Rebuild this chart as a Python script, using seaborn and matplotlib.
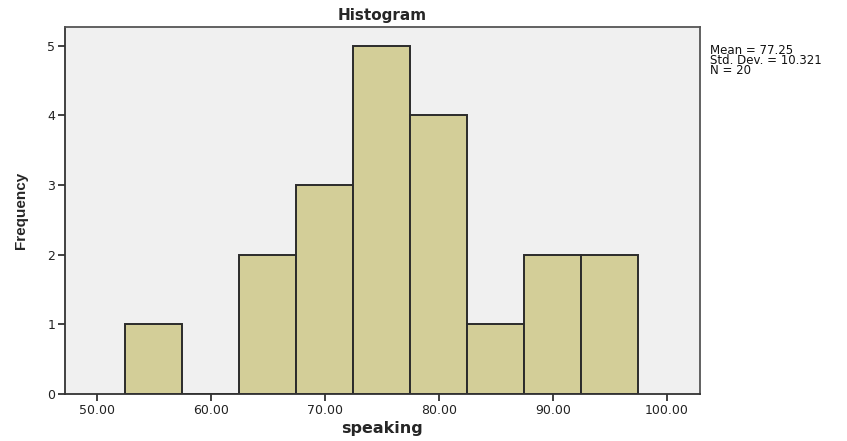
import numpy as np
import matplotlib
matplotlib.use("Agg")
import matplotlib.pyplot as plt
import seaborn as sns

# bin centres (width 5) and frequencies
bin_centers = [55, 60, 65, 70, 75, 80, 85, 90, 95]
counts = [1, 0, 2, 3, 5, 4, 1, 2, 2]
x_ticks = [50, 60, 70, 80, 90, 100]
y_ticks = [0, 1, 2, 3, 4, 5]
stats_text = "Mean = 77.25\nStd. Dev. = 10.321\nN = 20"

sns.set_style("white")
plt.rcParams['font.family'] = ['DejaVu Sans']

fig = plt.figure(figsize=(8.47, 4.41), dpi=100)
ax = fig.add_axes([0.0767, 0.1066, 0.7497, 0.8322])
ax.set_facecolor("#f0f0f0")

sns.histplot(x=bin_centers, weights=counts, binwidth=5, binrange=(52.5, 97.5),
             color="#d3ce98", edgecolor="#2b2b2b", linewidth=1.4, alpha=1, ax=ax)

ax.set_xlim(47.2, 102.9)
ax.set_ylim(0, 5.27)
ax.set_xticks(x_ticks)
ax.set_xticklabels([f"{t:.2f}" for t in x_ticks], fontsize=9)
ax.set_yticks(y_ticks)
ax.set_yticklabels([str(t) for t in y_ticks], fontsize=9)
ax.tick_params(axis="both", direction="out", length=5, width=1.3, color="#333333",
               labelcolor="#222222", pad=2, bottom=True, left=True)

for s in ax.spines.values():
    s.set_visible(True)
    s.set_color("#555555")
    s.set_linewidth(1.3)
for s in ["left", "bottom"]:
    ax.spines[s].set_color("#333333")

ax.set_title("Histogram", fontsize=11, fontweight="bold", pad=5)
ax.set_xlabel("speaking", fontsize=11.5, fontweight="bold", labelpad=3)
ax.set_ylabel("Frequency", fontsize=11, fontweight="bold", labelpad=14,
              family=['Liberation Sans Narrow', 'Liberation Sans'])

fig.text(710 / 847, 1 - 44 / 441, stats_text, fontsize=8.5, va="top", ha="left",
         linespacing=0.68, color="#111111")

fig.savefig("out.png", dpi=100)
